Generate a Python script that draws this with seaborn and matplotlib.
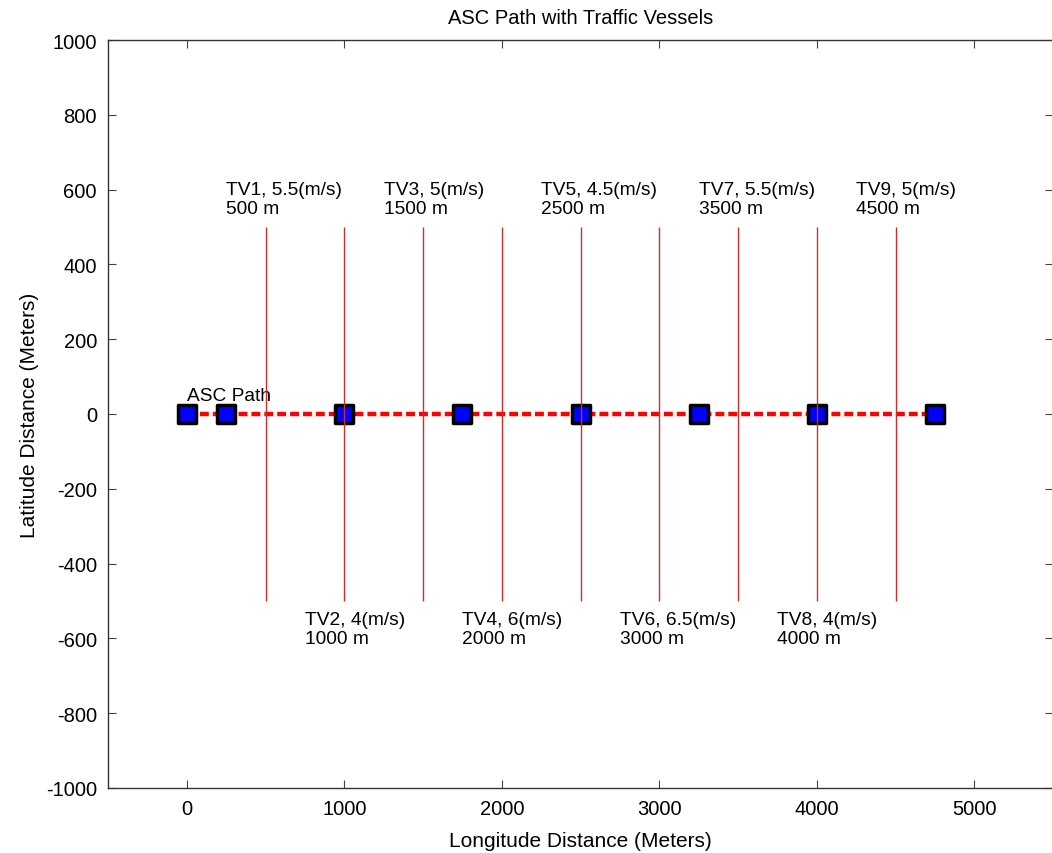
import matplotlib
matplotlib.use("Agg")
import matplotlib.pyplot as plt
import seaborn as sns
import numpy as np

# Data
path_x = [0, 250, 1000, 1750, 2500, 3250, 4000, 4750]
path_y = [0, 0, 0, 0, 0, 0, 0, 0]
tv_names = ["TV1", "TV2", "TV3", "TV4", "TV5", "TV6", "TV7", "TV8", "TV9"]
tv_speeds = ["5.5", "4", "5", "6", "4.5", "6.5", "5.5", "4", "5"]
tv_x = [500, 1000, 1500, 2000, 2500, 3000, 3500, 4000, 4500]
tv_y_low = -500
tv_y_high = 500

sns.set_style("ticks")
plt.rcParams["font.family"] = ["Liberation Sans", "DejaVu Sans"]
plt.rcParams["xtick.direction"] = "in"
plt.rcParams["ytick.direction"] = "in"
plt.rcParams["axes.unicode_minus"] = False
plt.rcParams["text.color"] = "black"
plt.rcParams["axes.labelcolor"] = "black"
plt.rcParams["xtick.labelcolor"] = "black"
plt.rcParams["ytick.labelcolor"] = "black"

fig = plt.figure(figsize=(10.52, 8.54), dpi=100)
ax = fig.add_axes([108 / 1052, 1 - 789 / 854, 945 / 1052, 748 / 854])

# ASC path
sns.lineplot(x=path_x, y=path_y, ax=ax, color="red", linestyle="--", linewidth=3.2,
             sort=False, zorder=2)
ax.lines[-1].set_dashes([2.0, 0.9])
sns.scatterplot(x=path_x, y=path_y, ax=ax, marker="s", s=170, color="blue",
                edgecolor="black", linewidth=2.5, zorder=3)

# vertical traffic vessel lines
ax.vlines(tv_x, tv_y_low, tv_y_high, color="#d42a2a", linewidth=1.0, zorder=4)

# labels
for i, (name, sp, x) in enumerate(zip(tv_names, tv_speeds, tv_x)):
    yy = 575 if i % 2 == 0 else -575
    ax.text(x - 250, yy, f"{name}, {sp}(m/s)\n{x} m", fontsize=13.8,
            ha="left", va="center", linespacing=1.1)
ax.text(0, 50, "ASC Path", fontsize=13.8, ha="left", va="center")

ax.set_xlim(-500, 5500)
ax.set_ylim(-1000, 1000)
ax.set_xticks([0, 1000, 2000, 3000, 4000, 5000])
ax.set_yticks(np.arange(-1000, 1001, 200))
ax.tick_params(axis="both", labelsize=14.5, length=6, width=0.8, color="#444444",
               top=True, right=True, pad=8)
for s in ax.spines.values():
    s.set_color("#333333")
    s.set_linewidth(1.0)
ax.set_xlabel("Longitude Distance (Meters)", fontsize=15, labelpad=9)
ax.set_ylabel("Latitude Distance (Meters)", fontsize=15, labelpad=5)
ax.set_title("ASC Path with Traffic Vessels", fontsize=14.5, pad=12)

fig.savefig("out.png", dpi=100)
